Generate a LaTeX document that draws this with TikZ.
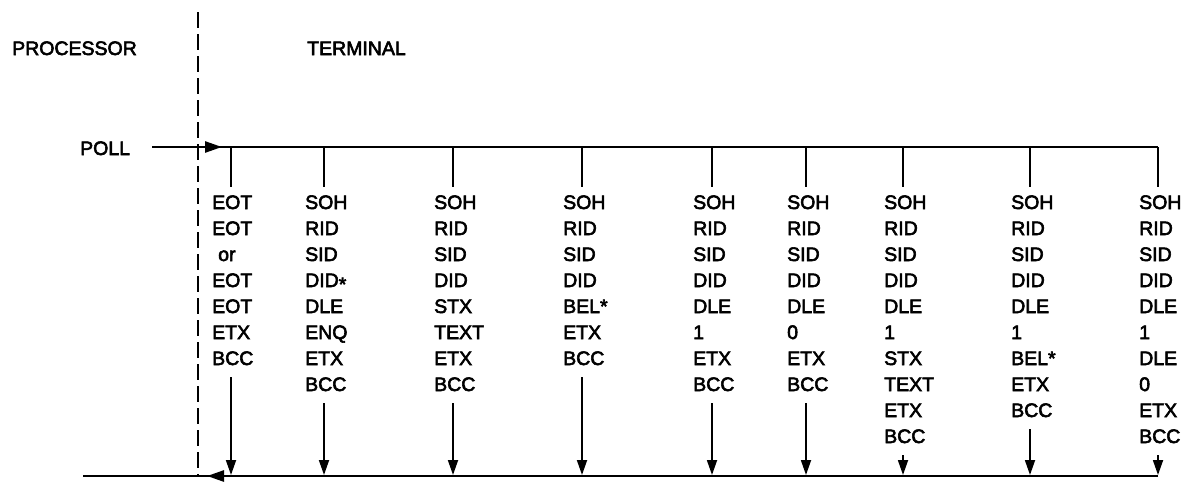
\documentclass[tikz,border=0pt]{standalone}
\usepackage{fontspec}
\newfontfamily\diagfont{Liberation Sans}[FakeBold=3]
\usetikzlibrary{arrows.meta}
\newcommand\diagcol[4]{%
  \coordinate (#1t) at (#2,147);
  \coordinate (#1s) at (#2,187);
  \draw[stub] (#1t) -- (#1s);
  \foreach \t [count=\k from 0] in {#4} {\node[lbl] (#1r\k) at ({#2-19},{209+26*\k}) {\t};}
  \coordinate (#1a) at ({#2},{202+26*(#3-1)+19});
  \coordinate (#1b) at (#2,475);
  \draw[darrow] (#1a) -- (#1b);
}
\begin{document}
\begin{tikzpicture}[x=1pt,y=-1pt,
  lbl/.style={anchor=base west,inner sep=0pt,font=\diagfont\fontsize{19.5}{24}\selectfont},
  mainline/.style={line width=2.6pt,draw=black},
  stub/.style={line width=1.8pt},
  darrow/.style={line width=1.8pt,-{Triangle[length=15pt,width=10pt]}},
  headr/.style={line width=2.6pt,-{Triangle[length=17pt,width=11pt]}},
  dashline/.style={line width=2.2pt,dash pattern=on 16pt off 6pt}]
\useasboundingbox (0,0) rectangle (1193,482);
\node[lbl] (proc) at (12,55) {PROCESSOR};
\node[lbl] (term) at (307,55) {TERMINAL};
\node[lbl] (poll) at (80,155) {POLL};
% dashed boundary
\coordinate (d0) at (198,12);
\coordinate (d1) at (198,476);
\draw[dashline] (d0) -- (d1);
% top line
\coordinate (p0) at (152,147);
\coordinate (pa) at (222,147);
\coordinate (tr) at (1158,147);
\draw[mainline] (p0) -- (tr);
\draw[headr] (p0) -- (pa);
% bottom line
\coordinate (br) at (1158,476);
\coordinate (ba) at (207,476);
\coordinate (bl) at (83,476);
\draw[mainline] (br) -- (bl);
\draw[headr] (br) -- (ba);
% columns
\diagcol{c1}{231}{7}{EOT,EOT,\hspace{6pt}or,EOT,EOT,ETX,BCC}
\diagcol{c2}{324}{8}{SOH,RID,SID,{DID\raisebox{-4pt}{*}},DLE,ENQ,ETX,BCC}
\diagcol{c3}{453}{8}{SOH,RID,SID,DID,STX,TEXT,ETX,BCC}
\diagcol{c4}{582}{7}{SOH,RID,SID,DID,BEL*,ETX,BCC}
\diagcol{c5}{712}{8}{SOH,RID,SID,DID,DLE,1,ETX,BCC}
\diagcol{c6}{806}{8}{SOH,RID,SID,DID,DLE,0,ETX,BCC}
\diagcol{c7}{903}{10}{SOH,RID,SID,DID,DLE,1,STX,TEXT,ETX,BCC}
\diagcol{c8}{1030}{9}{SOH,RID,SID,DID,DLE,1,BEL*,ETX,BCC}
\diagcol{c9}{1158}{10}{SOH,RID,SID,DID,DLE,1,DLE,0,ETX,BCC}
\end{tikzpicture}
\end{document}
